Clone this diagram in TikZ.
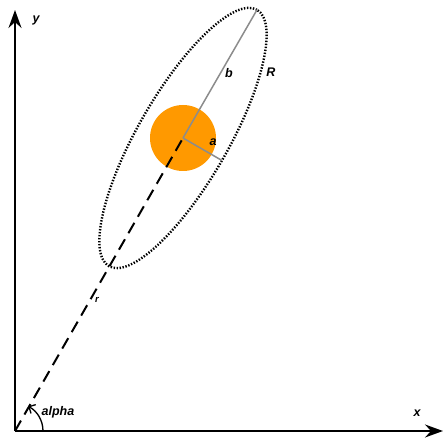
\documentclass[tikz,border=0pt]{standalone}
\usepackage{fontspec}
\setmainfont{Liberation Sans}
\usetikzlibrary{arrows.meta,calc}
\definecolor{blobor}{RGB}{255,153,0}

\begin{document}
\begin{tikzpicture}[x=1pt,y=1pt,font=\fontsize{12.5}{14}\selectfont\itshape\bfseries,
  axis/.style={line width=2pt,-{Stealth[length=18pt,width=13pt,inset=6pt]}},
  guide/.style={gray!90,line width=1.5pt}]
  \useasboundingbox (0,0) rectangle (444,439);
  % reference points
  \coordinate (O) at (15,8);
  \coordinate (Xend) at (443,8);
  \coordinate (Yend) at (15,429);
  \coordinate (C) at (183,301);
  \coordinate (Btip) at ($(C)+(60:148)$);
  \coordinate (Atip) at ($(C)+(-30:45)$);
  % body and its orbit
  \fill[blobor] (C) circle (33);
  \draw[line width=2.4pt,dash pattern=on 1.4pt off 1.6pt] (C) ellipse[x radius=148,y radius=45,rotate=60];
  % semi axes
  \draw[guide] (C) -- (Btip);
  \draw[guide] (C) -- (Atip);
  % radius vector
  \draw[line width=2pt,dash pattern=on 12pt off 7pt] (O) -- (C);
  % axes
  \draw[axis] (O) -- (Xend);
  \draw[axis] (O) -- (Yend);
  % angle
  \draw[line width=1.3pt,-{Straight Barb[length=5pt,width=10pt]}] ($(O)+(28,0)$) arc[start angle=0,end angle=62,radius=28];
  % labels
  \node (ylab) at (36,419) {y};
  \node (xlab) at (417,26) {x};
  \node (blab) at (229,366) {b};
  \node (Rlab) at (271,367) {R};
  \node (alab) at (213,297) {a};
  \node[font=\fontsize{9.5}{10}\selectfont\itshape\bfseries] (rlab) at (97,139) {r};
  \node (alphalab) at (58,27) {alpha};
\end{tikzpicture}
\end{document}
